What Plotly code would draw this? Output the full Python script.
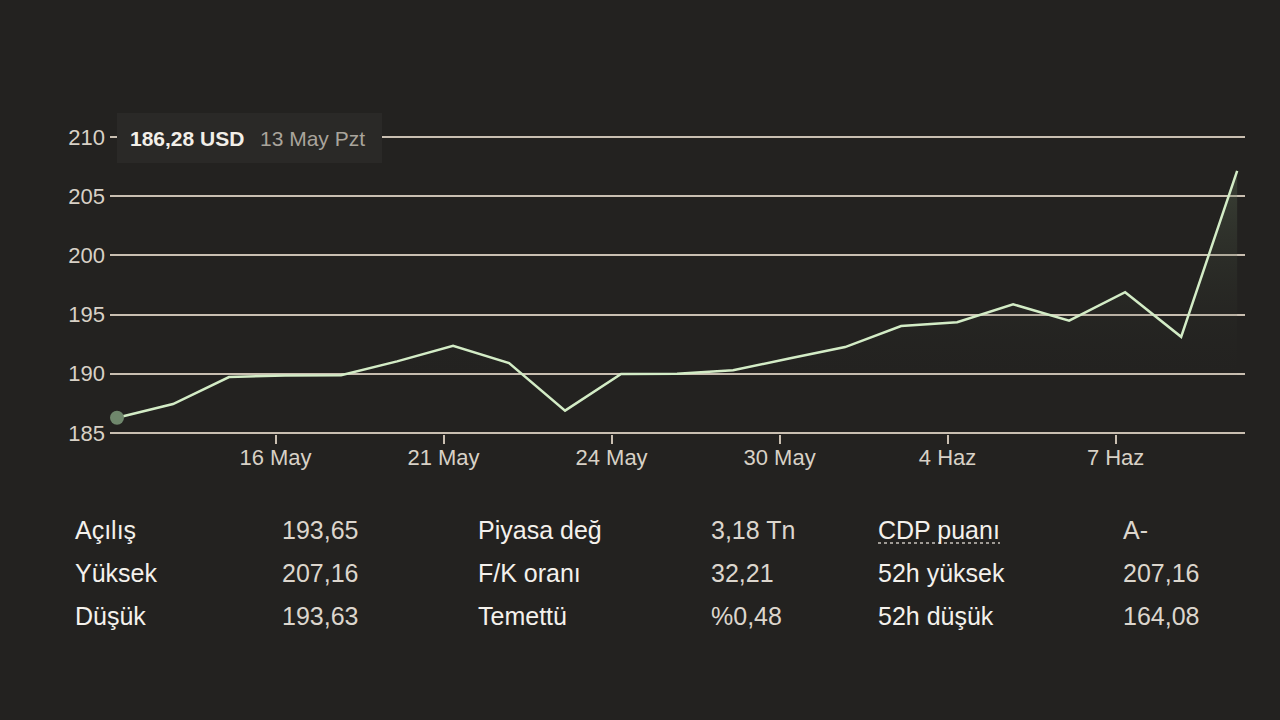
import plotly.graph_objects as go

# ---- data ----
dates = ["13 May", "14 May", "15 May", "16 May", "17 May", "20 May", "21 May",
         "22 May", "23 May", "24 May", "28 May", "29 May", "30 May", "31 May",
         "3 Haz", "4 Haz", "5 Haz", "6 Haz", "7 Haz", "10 Haz", "11 Haz"]
prices = [186.28, 187.43, 189.72, 189.84, 189.87, 191.04, 192.35, 190.90,
          186.88, 189.98, 189.99, 190.29, 191.29, 192.25, 194.03, 194.35,
          195.87, 194.48, 196.89, 193.12, 207.15]
tick_labels = ["16 May", "21 May", "24 May", "30 May", "4 Haz", "7 Haz"]
y_ticks = [185, 190, 195, 200, 205, 210]

tooltip_price = "186,28 USD"
tooltip_date = "13 May Pzt"

stat_labels_1 = ["Açılış", "Yüksek", "Düşük"]
stat_values_1 = ["193,65", "207,16", "193,63"]
stat_labels_2 = ["Piyasa değ", "F/K oranı", "Temettü"]
stat_values_2 = ["3,18 Tn", "32,21", "%0,48"]
stat_labels_3 = ["CDP puanı", "52h yüksek", "52h düşük"]
stat_values_3 = ["A-", "207,16", "164,08"]

# ---- layout constants ----
BG = "#232220"
GRID = "#c9bfb1"
LINE = "#d3ecc6"
TXT = "#d8d1c6"
FONT = "Arial, Liberation Sans, sans-serif"

L, R, T, B = 110, 35, 136, 286
W, H = 1280, 720
PW, PH = W - L - R, H - T - B


def px(x):
    return (x - L) / PW


def py(y):
    return (H - B - y) / PH


xs = list(range(len(dates)))
tick_pos = [dates.index(t) - 0.17 for t in tick_labels]

fig = go.Figure()
fig.add_trace(go.Scatter(
    x=xs, y=prices, mode="lines",
    line=dict(color=LINE, width=2.5),
    fill="tozeroy",
    fillgradient=dict(type="vertical", start=189, stop=208,
                      colorscale=[[0, "rgba(35,34,32,0)"],
                                  [1, "rgba(110,130,100,0.35)"]]),
    hoverinfo="skip", showlegend=False,
))
fig.add_trace(go.Scatter(
    x=[xs[0]], y=[prices[0]], mode="markers",
    marker=dict(color="#6f876c", size=14),
    hoverinfo="skip", showlegend=False,
))

fig.update_layout(
    width=W, height=H,
    paper_bgcolor=BG, plot_bgcolor=BG,
    margin=dict(l=L, r=R, t=T, b=B, pad=0),
    font=dict(family=FONT, color=TXT),
    xaxis=dict(
        range=[-0.125, 20.14], showgrid=False, zeroline=False,
        tickmode="array", tickvals=tick_pos, ticktext=tick_labels,
        ticks="outside", ticklen=9, tickwidth=2, tickcolor=GRID,
        tickfont=dict(size=22, color=TXT, family=FONT),
        ticklabelstandoff=-5,
        showline=False,
    ),
    yaxis=dict(
        range=[184.9, 210.1], showgrid=True, gridcolor=GRID, gridwidth=2,
        zeroline=False, tickmode="array", tickvals=y_ticks,
        ticktext=[str(v) for v in y_ticks],
        tickfont=dict(size=22, color=TXT, family=FONT),
        ticks="", ticklabelstandoff=4,
    ),
)

# tooltip box
fig.add_shape(type="rect", xref="paper", yref="paper",
              x0=px(117), x1=px(382), y0=py(163), y1=py(113),
              fillcolor="#2a2927", line=dict(width=0), layer="above")
fig.add_annotation(xref="paper", yref="paper", x=px(128), y=py(138),
                   text="<b>" + tooltip_price + "</b>", showarrow=False,
                   xanchor="left", yanchor="middle",
                   font=dict(size=21, color="#f2efe9", family=FONT))
fig.add_annotation(xref="paper", yref="paper", x=px(258), y=py(138),
                   text=tooltip_date, showarrow=False,
                   xanchor="left", yanchor="middle",
                   font=dict(size=21, color="#a9a49c", family=FONT))

# stats table
rows_y = [530, 573, 616]
cols = [(73, stat_labels_1), (280, stat_values_1), (476, stat_labels_2),
        (709, stat_values_2), (876, stat_labels_3), (1121, stat_values_3)]
for ci, (cx, items) in enumerate(cols):
    is_label = ci % 2 == 0
    for ry, txt in zip(rows_y, items):
        color = "#f4f1ec" if is_label else "#dcd6cd"
        fig.add_annotation(xref="paper", yref="paper", x=px(cx), y=py(ry),
                           text=txt, showarrow=False, xanchor="left",
                           yanchor="middle",
                           font=dict(size=25, color=color, family=FONT))

# dotted underline for "CDP puanı"
fig.add_shape(type="line", xref="paper", yref="paper",
              x0=px(878), x1=px(1000), y0=py(543), y1=py(543),
              line=dict(color="#c9c4bc", width=1.5, dash="dot"))

fig.write_html("out.html")
